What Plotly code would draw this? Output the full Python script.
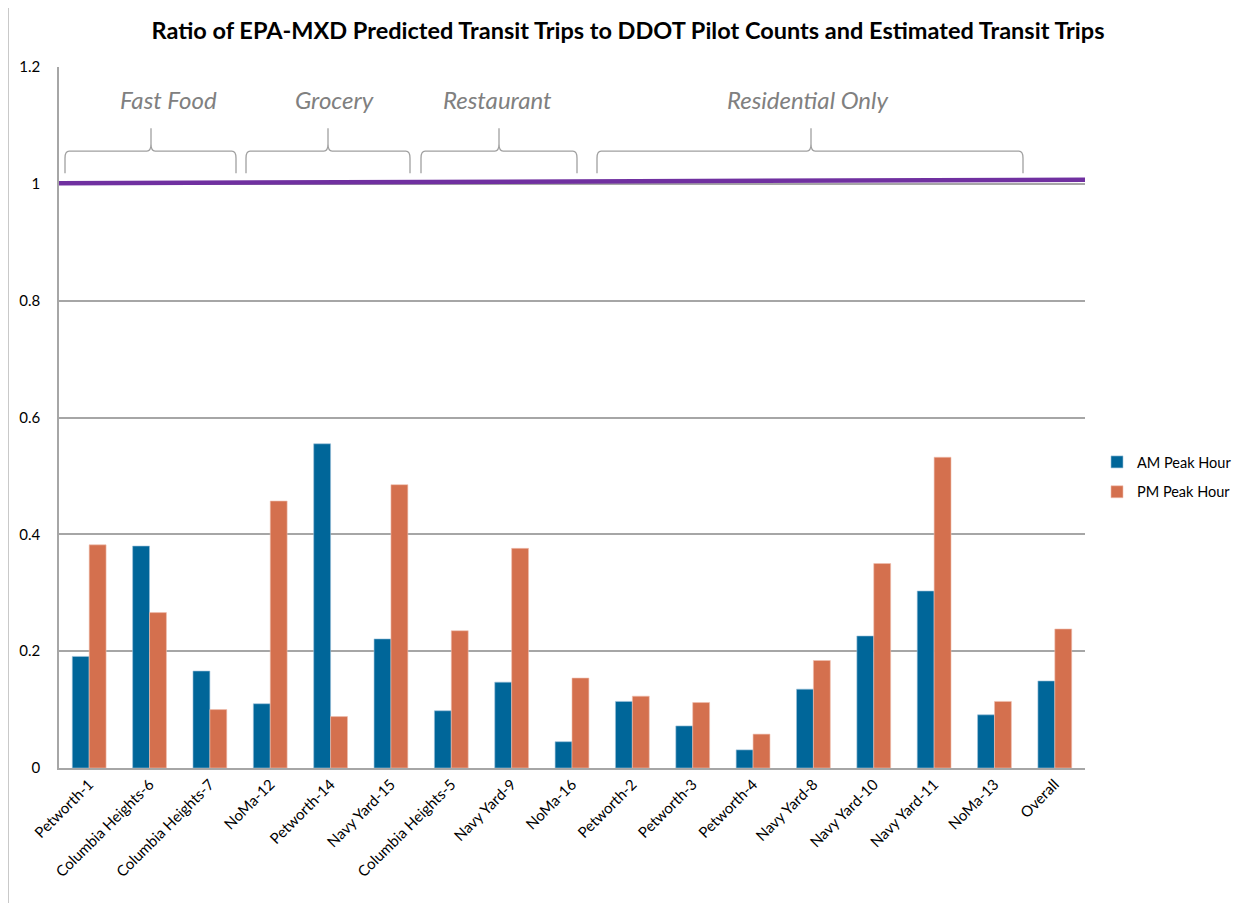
import plotly.graph_objects as go

categories = ["Petworth-1", "Columbia Heights-6", "Columbia Heights-7", "NoMa-12",
              "Petworth-14", "Navy Yard-15", "Columbia Heights-5", "Navy Yard-9",
              "NoMa-16", "Petworth-2", "Petworth-3", "Petworth-4", "Navy Yard-8",
              "Navy Yard-10", "Navy Yard-11", "NoMa-13", "Overall"]
am_peak = [0.191, 0.380, 0.166, 0.110, 0.555, 0.221, 0.098, 0.147, 0.045,
           0.114, 0.072, 0.031, 0.135, 0.226, 0.303, 0.091, 0.149]
pm_peak = [0.382, 0.266, 0.100, 0.457, 0.088, 0.485, 0.235, 0.376, 0.154,
           0.123, 0.112, 0.058, 0.184, 0.350, 0.532, 0.114, 0.238]
ref_line_x = [0, 1]
ref_line_y = [1.001, 1.007]
groups = ["Fast Food", "Grocery", "Restaurant", "Residential Only"]
y_ticks = [0, 0.2, 0.4, 0.6, 0.8, 1.0, 1.2]
y_tick_text = ["0", "0.2", "0.4", "0.6", "0.8", "1", "1.2"]

AM_COLOR = "#006699"
PM_COLOR = "#D4704E"
FONT = "Lato"

fig = go.Figure()
fig.add_trace(go.Bar(x=categories, y=am_peak, name="AM Peak Hour", legendgroup="am",
                     marker=dict(color=AM_COLOR, line=dict(color="#9fc3dc", width=0.6))))
fig.add_trace(go.Bar(x=categories, y=pm_peak, name="PM Peak Hour", legendgroup="pm",
                     marker=dict(color=PM_COLOR, line=dict(color="#f0c0b0", width=0.6))))
fig.add_trace(go.Scatter(x=ref_line_x, y=ref_line_y, mode="lines", xaxis="x2",
                         line=dict(color="#7030A0", width=4.5), showlegend=False,
                         hoverinfo="skip"))

n = len(categories)
OFF = 8  # page body margin
W, H = 1247 - OFF, 903 - OFF
L, R, T, B = 59 - OFF, 1085 - OFF, 67 - OFF, 768 - OFF

def px_x(p):
    return (p - OFF - L) / (R - L)

def px_y(p):
    return (B - (p - OFF)) / (B - T)

# bracket layout (page pixels): left end, right end, tip, label centre
bracket_px = [(65, 236, 151, 168), (246, 410, 328, 334),
              (421, 577, 499, 497), (597, 1023, 811, 807)]

shapes = []
annotations = []
y_top, y_bot, y_tip = 1.056, 1.018, 1.095
for g, (a, b, t, c) in zip(groups, bracket_px):
    x0, x1, xm = px_x(a), px_x(b), px_x(t)
    r = 0.004
    path = (f"M {x0},{y_bot} L {x0},{y_top-0.012} Q {x0},{y_top} {x0+r},{y_top} "
            f"L {xm-r},{y_top} Q {xm},{y_top} {xm},{y_top+0.012} L {xm},{y_tip} "
            f"L {xm},{y_top+0.012} Q {xm},{y_top} {xm+r},{y_top} "
            f"L {x1-r},{y_top} Q {x1},{y_top} {x1},{y_top-0.012} L {x1},{y_bot}")
    shapes.append(dict(type="path", xref="paper", yref="y", path=path,
                       line=dict(color="#A0A0A0", width=1.3)))
    annotations.append(dict(x=px_x(c), y=1.144, xref="paper", yref="y", text=g,
                            showarrow=False,
                            font=dict(family=FONT, size=24, color="#808080",
                                      style="italic"),
                            xanchor="center", yanchor="middle"))

# outer chart border
shapes.append(dict(type="rect", xref="paper", yref="paper",
                   x0=px_x(8), x1=px_x(1260), y0=px_y(915), y1=px_y(2),
                   line=dict(color="#A6A6A6", width=1.2), layer="below"))

fig.update_layout(
    width=W, height=H,
    margin=dict(l=L, r=W - R, t=T, b=H - B, autoexpand=False),
    paper_bgcolor="white", plot_bgcolor="white",
    title=dict(text="<b>Ratio of EPA-MXD Predicted Transit Trips to DDOT Pilot Counts and Estimated Transit Trips</b>",
               x=(628 - OFF) / W, xanchor="center", y=1 - (31 - OFF) / H, yanchor="middle",
               font=dict(family=FONT, size=23.5, color="black")),
    barmode="group", bargap=0.44, bargroupgap=0.0,
    font=dict(family=FONT, color="black"),
    xaxis=dict(tickangle=-45, tickfont=dict(size=15, family=FONT, color="black"),
               showgrid=False, showline=True, linecolor="#A6A6A6", linewidth=1.5,
               ticks="", range=[-0.5, n - 0.5]),
    xaxis2=dict(overlaying="x", range=[0, 1], visible=False, showgrid=False),
    yaxis=dict(range=[0, 1.2], tickvals=y_ticks, ticktext=y_tick_text,
               showgrid=True, gridcolor="#A6A6A6", gridwidth=1.5,
               showline=True, linecolor="#A6A6A6", linewidth=1.5,
               zeroline=False, ticks="", ticklabelstandoff=14,
               tickfont=dict(size=15, family=FONT, color="black")),
    legend=dict(x=px_x(1097), y=px_y(446), xanchor="left", yanchor="top",
                font=dict(size=14.5, family=FONT, color="black"),
                itemwidth=30, tracegroupgap=8, bgcolor="rgba(0,0,0,0)"),
    shapes=shapes,
    annotations=annotations,
)

fig.write_html("out.html")
